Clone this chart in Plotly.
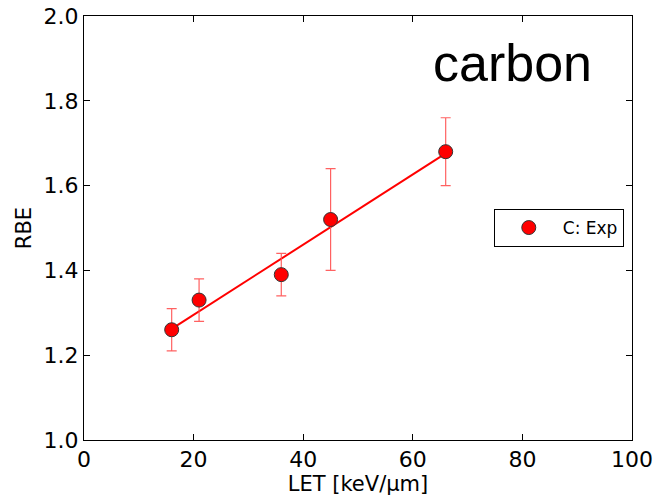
import plotly.graph_objects as go

let_vals = [16, 21, 36, 45, 66]
rbe_vals = [1.26, 1.33, 1.39, 1.52, 1.68]
err_plus = [0.05, 0.05, 0.05, 0.12, 0.08]
err_minus = [0.05, 0.05, 0.05, 0.12, 0.08]
fit_x = [16, 66]
fit_y = [1.262, 1.676]
x_ticks = [0, 20, 40, 60, 80, 100]
y_ticks = [1.0, 1.2, 1.4, 1.6, 1.8, 2.0]

fig = go.Figure()
fig.add_trace(go.Scatter(x=fit_x, y=fit_y, mode="lines",
                         line=dict(color="#ff0000", width=2), showlegend=False))
fig.add_trace(go.Scatter(
    x=let_vals, y=rbe_vals, mode="markers", name="C: Exp",
    marker=dict(color="#ff0000", size=14, line=dict(color="#333333", width=1)),
    error_y=dict(type="data", symmetric=False, array=err_plus, arrayminus=err_minus,
                 color="rgba(255,80,80,0.9)", thickness=1.2, width=5),
))

axis_common = dict(showline=True, linecolor="black", linewidth=1, mirror="ticks",
                   ticks="inside", ticklen=6, tickcolor="black", showgrid=False,
                   zeroline=False, automargin=False,
                   tickfont=dict(family="DejaVu Sans", size=22, color="black"))
fig.update_xaxes(range=[0, 100], tickvals=x_ticks, ticktext=[str(v) for v in x_ticks],
                 title=dict(text="LET [keV/μm]", font=dict(family="DejaVu Sans", size=21, color="black"),
                            standoff=2), **axis_common)
fig.update_yaxes(range=[1.0, 2.0], tickvals=y_ticks, ticktext=[f"{v:.1f}" for v in y_ticks],
                 title=dict(text="RBE", font=dict(family="DejaVu Sans", size=21, color="black"),
                            standoff=6), **axis_common)

fig.add_annotation(text="carbon", xref="paper", yref="paper", x=0.93, y=0.963,
                   xanchor="right", yanchor="top", showarrow=False,
                   font=dict(family="Liberation Sans", size=52, color="black"))

fig.update_layout(
    width=664, height=498, margin=dict(l=84, r=32, t=16, b=58),
    plot_bgcolor="white", paper_bgcolor="white",
    legend=dict(x=0.985, y=0.50, xanchor="right", yanchor="middle", itemwidth=58,
                bordercolor="black", borderwidth=1, bgcolor="white",
                font=dict(family="DejaVu Sans", size=17, color="black")),
)
fig.write_html("out.html")
